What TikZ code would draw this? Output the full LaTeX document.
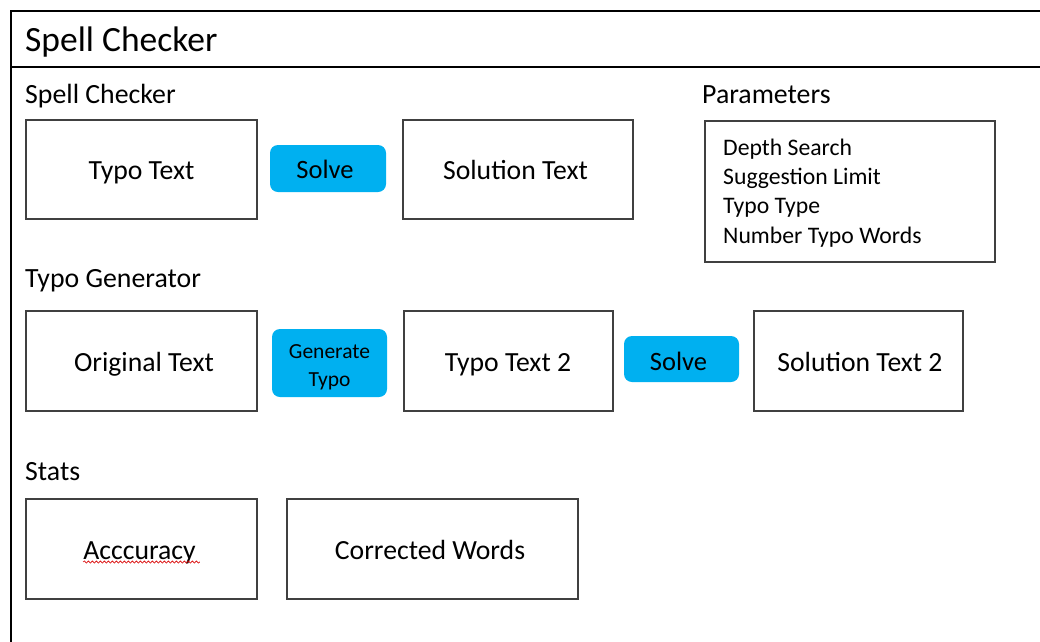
\documentclass[tikz,border=0pt]{standalone}
\usepackage{fontspec}
\setmainfont{Carlito}
\usetikzlibrary{decorations.pathmorphing}
\definecolor{btnblue}{HTML}{00B0F0}
\definecolor{boxline}{HTML}{404040}
\tikzset{
  panel/.style={draw=boxline, line width=1.4pt, fill=white, inner sep=0pt},
  btn/.style={fill=btnblue, rounded corners=8pt, inner sep=0pt},
  sectionlabel/.style={anchor=base west, inner sep=0pt, font=\fontsize{27.8}{32}\selectfont},
  boxtext/.style={anchor=base, inner sep=0pt, font=\fontsize{27.7}{32}\selectfont},
  btntext/.style={anchor=base, inner sep=0pt, font=\fontsize{26.5}{32}\selectfont},
}
\begin{document}
\begin{tikzpicture}[x=1pt, y=-1pt]
\useasboundingbox (0,0) rectangle (1040,641);
\clip (0,0) rectangle (1040,641);
\fill[white] (0,0) rectangle (1040,641);

% window frame and title bar
\draw[line width=2.6pt] (1060,11) -- (11,11) -- (11,660);
\draw[line width=2.6pt] (11,67) -- (1060,67);
\node[anchor=base west, inner sep=0pt, font=\fontsize{35.5}{40}\selectfont] (title) at (25,51) {Spell Checker};

% spell checker section
\node[sectionlabel] (lblspell) at (25,103) {Spell Checker};
\node[panel, minimum width=231pt, minimum height=99pt] (typo) at (141.5,169.5) {};
\node[boxtext] (typotxt) at (141.5,179) {Typo Text};
\node[btn, minimum width=116pt, minimum height=47pt] (solve1) at (328,168.5) {};
\node[btntext] (solve1txt) at (325,178) {Solve};
\node[panel, minimum width=230pt, minimum height=99pt] (sol) at (518,169.5) {};
\node[boxtext] (soltxt) at (515.5,179) {Solution Text};

% parameters
\node[sectionlabel] (lblparam) at (702,103) {Parameters};
\node[panel, minimum width=290pt, minimum height=141pt] (params) at (850,191.5) {};
\node[anchor=base west, inner sep=0pt, align=left,
      font=\fontsize{23.7}{29.3}\selectfont] (plist) at (723,243)
  {Depth Search\\Suggestion Limit\\Typo Type\\Number Typo Words};

% typo generator section
\node[sectionlabel] (lblgen) at (25,287) {Typo Generator};
\node[panel, minimum width=231pt, minimum height=100pt] (orig) at (141.5,361) {};
\node[boxtext] (origtxt) at (144,371) {Original Text};
\node[btn, minimum width=115pt, minimum height=68pt] (gen) at (329.5,363) {};
\node[anchor=base, inner sep=0pt, align=center,
      font=\fontsize{21.5}{28}\selectfont] (gentxt) at (329.5,386) {Generate\\Typo};
\node[panel, minimum width=209pt, minimum height=100pt] (typo2) at (508.5,361) {};
\node[boxtext] (typo2txt) at (508,371) {Typo Text 2};
\node[btn, minimum width=115pt, minimum height=46pt] (solve2) at (681.5,359) {};
\node[btntext] (solve2txt) at (678.5,370) {Solve};
\node[panel, minimum width=209pt, minimum height=100pt] (sol2) at (858.5,361) {};
\node[boxtext] (sol2txt) at (860,371) {Solution Text 2};

% stats section
\node[sectionlabel] (lblstats) at (25,480) {Stats};
\node[panel, minimum width=231pt, minimum height=100pt] (acc) at (141.5,549) {};
\node[boxtext] (acctext) at (139.5,559) {Acccuracy};
\draw[red!85!black, line width=0.6pt, decorate,
      decoration={snake, amplitude=1.1pt, segment length=4pt}]
  ([yshift=-3pt]acctext.base west) -- ([xshift=4pt, yshift=-3pt]acctext.base east);
\node[panel, minimum width=291pt, minimum height=100pt] (corr) at (432.5,549) {};
\node[boxtext] (corrtxt) at (430,559) {Corrected Words};
\end{tikzpicture}
\end{document}
